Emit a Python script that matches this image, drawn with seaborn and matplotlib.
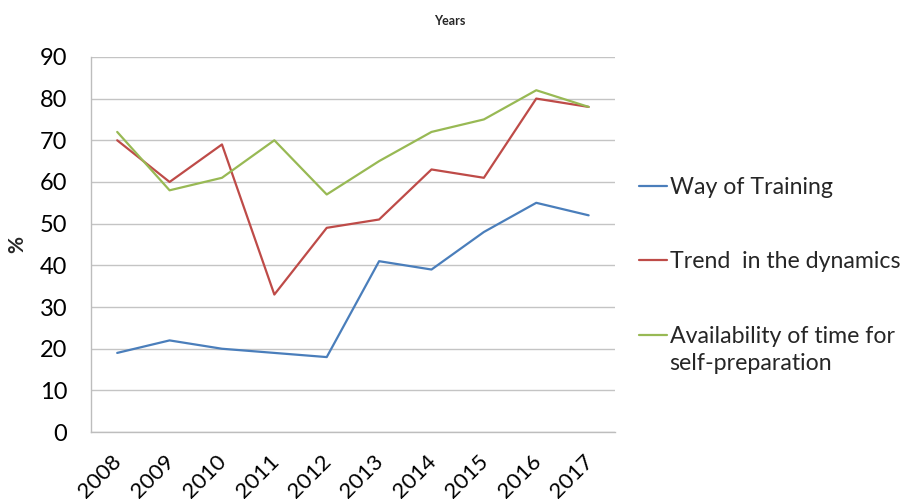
import numpy as np
import pandas as pd
import seaborn as sns
import matplotlib.pyplot as plt
from matplotlib.transforms import ScaledTranslation

years = [2008, 2009, 2010, 2011, 2012, 2013, 2014, 2015, 2016, 2017]
way_of_training = [19, 22, 20, 19, 18, 41, 39, 48, 55, 52]
trend_dynamics = [70, 60, 69, 33, 49, 51, 63, 61, 80, 78]
availability = [72, 58, 61, 70, 57, 65, 72, 75, 82, 78]
series_names = ["Way of Training", "Trend  in the dynamics", "Availability of time for"]
colors = ["#4A7EBB", "#BE4B48", "#98B954"]

df = pd.DataFrame({
    "year": years * 3,
    "value": way_of_training + trend_dynamics + availability,
    "series": [series_names[0]] * 10 + [series_names[1]] * 10 + [series_names[2]] * 10,
})

sns.set_style("white")
plt.rcParams['font.family'] = ['Lato', 'DejaVu Sans']

fig = plt.figure(figsize=(9.11, 4.99), dpi=100)
ax = fig.add_axes([0.0999, 0.134, 0.575, 0.752])

sns.lineplot(data=df, x="year", y="value", hue="series", palette=colors,
             linewidth=1.6, ax=ax)

ax.set_xlim(2007.5, 2017.5)
ax.set_ylim(0, 90)
ax.set_yticks(np.arange(0, 91, 10))
ax.yaxis.grid(True, color="#c4c4c4", linewidth=1)
ax.set_axisbelow(True)
for s in ["top", "right"]:
    ax.spines[s].set_visible(False)
for s in ["left", "bottom"]:
    ax.spines[s].set_color("#bdbdbd")
    ax.spines[s].set_linewidth(1)
ax.tick_params(axis="both", length=0, colors="black")
ax.tick_params(axis="y", pad=17, labelsize=17)
ax.set_xticks(years)
ax.set_xticklabels([str(y) for y in years], rotation=45, ha="right", va="top",
                   rotation_mode="anchor", fontsize=16)
ax.tick_params(axis="x", pad=14)
# nudge the slanted year labels slightly left, as in the original
shift = ScaledTranslation(-4 / 72, 0, fig.dpi_scale_trans)
for lbl in ax.get_xticklabels():
    lbl.set_transform(lbl.get_transform() + shift)

ax.set_xlabel("")
ax.set_ylabel("%", fontsize=15, fontweight="bold", labelpad=9)
fig.text(0.494, 0.957, "Years", fontsize=9, fontweight="bold", ha="center", va="center")

handles, labels = ax.get_legend_handles_labels()
leg = ax.legend(handles, labels, loc="center left", bbox_to_anchor=(0.679, 0.475),
                bbox_transform=fig.transFigure, frameon=False, fontsize=16.7,
                handlelength=1.2, handletextpad=0.1, labelspacing=2.3)
leg.set_zorder(5)

# second line of the last legend label, kept aligned with its first line
ax.annotate("self-preparation", xy=(0, 0.5), xycoords=leg.get_texts()[2],
            xytext=(0, -19.5), textcoords="offset points",
            ha="left", va="center", fontsize=16.7, annotation_clip=False,
            zorder=6)

plt.savefig("out.png", dpi=100)
